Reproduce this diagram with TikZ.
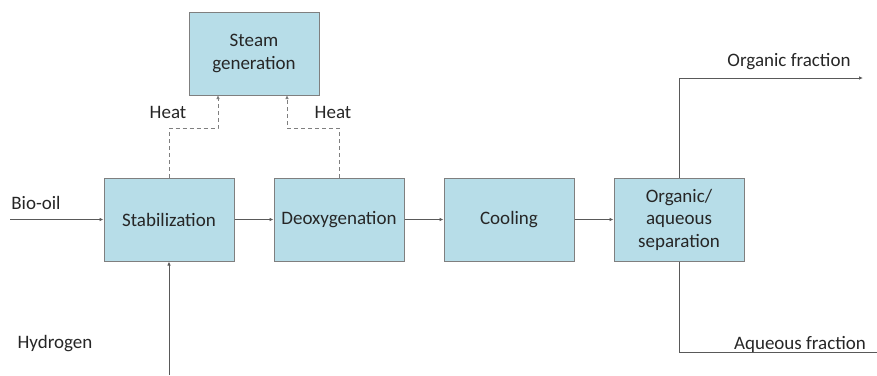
\documentclass[tikz,border=0pt]{standalone}
\usepackage{fontspec}
\setmainfont{Carlito}
\usetikzlibrary{arrows.meta}
\definecolor{boxfill}{HTML}{B7DDE8}
\definecolor{boxline}{HTML}{7F7F7F}
\definecolor{flowline}{HTML}{595959}
\definecolor{txt}{HTML}{262626}
\begin{document}
\begin{tikzpicture}[x=1pt,y=-1pt,
  unit/.style={draw=boxline,line width=1pt,fill=boxfill,minimum width=130pt,minimum height=83pt,
    align=center,font=\fontsize{19}{22.5}\selectfont,text=txt,inner sep=0pt},
  flow/.style={draw=flowline,line width=0.9pt,-{Latex[length=4pt,width=3.5pt]}},
  heat/.style={draw=boxline,line width=0.9pt,dash pattern=on 4pt off 3pt,-{Latex[length=4pt,width=3.5pt]}},
  lbl/.style={font=\fontsize{19}{22.5}\selectfont,text=txt,inner sep=0pt}]
\useasboundingbox (0,0) rectangle (877,375);
% process units
\node[unit] (stab) at (169,219.5) {Stabilization};
\node[unit] (deox) at (339,219.5) {Deoxygenation};
\node[unit] (cool) at (509,219.5) {Cooling};
\node[unit] (sep)  at (679,219.5) {Organic/\\aqueous\\separation};
\node[unit] (steam) at (254,53.5) {Steam\\generation};
% feeds
\coordinate (bioin) at (10,219.5);
\coordinate (h2in) at (169,375);
\node[lbl] at (36,203) {Bio-oil};
\node[lbl] at (55,344) {Hydrogen};
\draw[flow] (bioin) -- (stab.west);
\draw[flow] (h2in) -- (stab.south);
% main line
\draw[flow] (stab) -- (deox);
\draw[flow] (deox) -- (cool);
\draw[flow] (cool) -- (sep);
% heat recovery
\draw[heat] (stab.north) -- (169,128) -- (218,128) -- (218,95);
\draw[heat] (deox.north) -- (339,128) -- (287,128) -- (287,95);
\node[lbl] at (168,112) {Heat};
\node[lbl] at (333,112) {Heat};
% products
\coordinate (orgout) at (863,78);
\coordinate (aqout) at (877,352);
\draw[flow] (sep.north) |- (orgout);
\draw[draw=flowline,line width=0.9pt] (sep.south) |- (aqout);
\node[lbl] at (789,62) {Organic fraction};
\node[lbl] at (800,344) {Aqueous fraction};
\end{tikzpicture}
\end{document}
